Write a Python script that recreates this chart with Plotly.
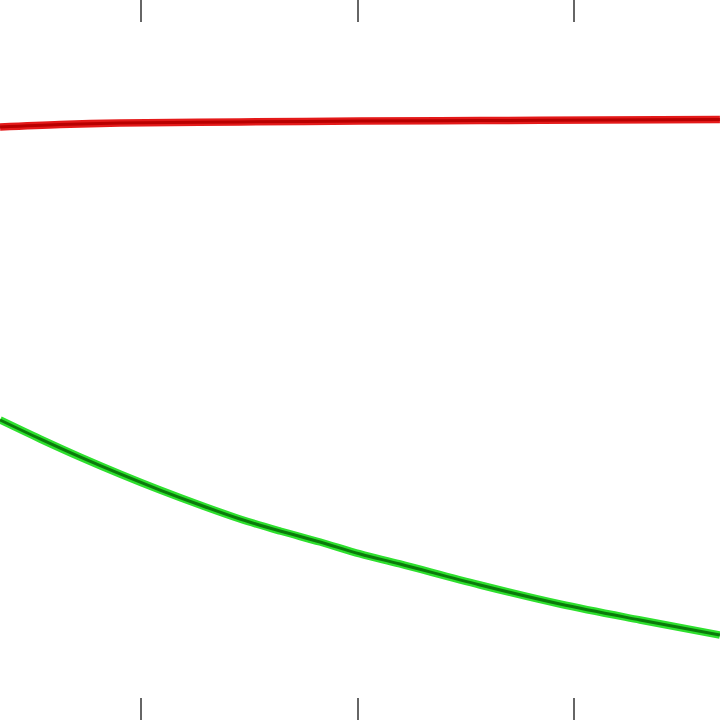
import plotly.graph_objects as go

# Data (x in axis units with ticks at 1, 2, 3)
x_red = [0.349, 0.626, 0.903, 1.457, 2.012, 2.566, 3.120, 3.674]
y_red = [0.8236, 0.8271, 0.8292, 0.8306, 0.8319, 0.8326, 0.8333, 0.8340]

x_green = [0.349, 0.534, 0.718, 0.903, 1.088, 1.273, 1.457, 1.642, 1.827, 2.012,
           2.196, 2.566, 2.935, 3.305, 3.674]
y_green = [0.4167, 0.3903, 0.3653, 0.3417, 0.3194, 0.2986, 0.2792, 0.2625, 0.2472, 0.2306,
           0.2167, 0.1875, 0.1611, 0.1389, 0.1181]

tick_vals = [1, 2, 3]

x_range = [0.3487, 3.6744]
y_range = [0.0, 1.0]

fig = go.Figure()
# red: outer glow + darker core
fig.add_trace(go.Scatter(x=x_red, y=y_red, mode="lines", line=dict(color="#e41a1a", width=7.5, shape="spline"), hoverinfo="skip"))
fig.add_trace(go.Scatter(x=x_red, y=y_red, mode="lines", line=dict(color="#b80000", width=3, shape="spline"), hoverinfo="skip"))
# green: bright halo + dark core
fig.add_trace(go.Scatter(x=x_green, y=y_green, mode="lines", line=dict(color="#2ee02e", width=7.5, shape="spline", smoothing=1.0), hoverinfo="skip"))
fig.add_trace(go.Scatter(x=x_green, y=y_green, mode="lines", line=dict(color="#0b7a0b", width=3, shape="spline", smoothing=1.0), hoverinfo="skip"))
# invisible trace on top axis
fig.add_trace(go.Scatter(x=[x_range[0]], y=[y_range[0]], xaxis="x2", mode="markers", marker=dict(opacity=0), hoverinfo="skip"))

axis_common = dict(range=x_range, tickvals=tick_vals, ticks="inside", ticklen=22, tickwidth=2,
                   tickcolor="#666666", showticklabels=False, showgrid=False, zeroline=False, showline=False)

fig.update_layout(
    width=720, height=720,
    margin=dict(l=0, r=0, t=0, b=0),
    paper_bgcolor="white", plot_bgcolor="white",
    showlegend=False,
    xaxis=dict(**axis_common),
    xaxis2=dict(**axis_common, overlaying="x", side="top"),
    yaxis=dict(range=y_range, showticklabels=False, showgrid=False, zeroline=False, showline=False, ticks=""),
)

fig.write_html("out.html", config={"displayModeBar": False},
               post_script="document.body.style.margin='0';document.body.style.overflow='hidden';")
